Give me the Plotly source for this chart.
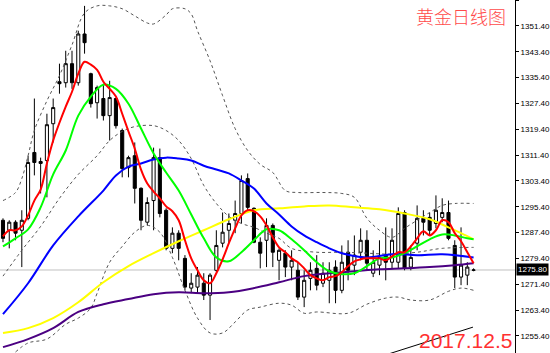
import plotly.graph_objects as go

idx = list(range(76))
open_ = [1291.2,1288.1,1290.6,1288.1,1291.8,1312.2,1309.4,1309.7,1321.1,1334.1,
         1333.8,1339.7,1333.8,1348.9,1336.6,1327.6,1328.9,1323.6,1328.9,1319.0,
         1307.5,1311.2,1301.1,1290.6,1297.3,1310.6,1294.3,1282.5,1287.2,1279.4,
         1270.2,1270.5,1271.7,1268.0,1275.7,1284.1,1288.1,1291.2,1293.3,1304.1,
         1294.9,1284.4,1285.0,1289.6,1278.8,1281.0,1276.7,1275.7,1267.4,1273.2,
         1276.3,1271.7,1272.6,1276.7,1269.5,1281.3,1277.3,1281.3,1285.0,1274.8,
         1277.3,1280.4,1278.2,1278.2,1293.6,1276.7,1284.1,1291.8,1292.1,1290.2,
         1292.1,1293.6,1283.4,1273.6,1274.2,1275.7]
high = [1291.8,1291.2,1291.2,1294.3,1311.2,1328.9,1310.6,1324.2,1328.9,1339.7,
        1343.7,1343.7,1349.9,1357.6,1336.9,1332.9,1333.5,1334.4,1329.2,1319.6,
        1311.2,1315.3,1301.4,1298.3,1313.7,1313.4,1294.9,1289.0,1288.1,1280.4,
        1274.8,1276.7,1274.8,1274.8,1288.1,1293.6,1293.3,1297.3,1305.1,1305.7,
        1295.2,1285.9,1291.8,1290.2,1282.5,1281.9,1281.9,1278.2,1275.7,1278.2,
        1280.4,1278.2,1278.2,1278.8,1283.4,1285.0,1286.5,1288.7,1288.1,1281.9,
        1285.0,1289.0,1288.7,1295.2,1294.3,1283.4,1295.8,1294.3,1293.6,1298.9,
        1298.0,1297.3,1285.0,1289.0,1278.2,1276.3]
low = [1284.4,1282.5,1285.0,1276.7,1291.2,1305.1,1299.5,1298.3,1315.3,1330.4,
       1332.3,1331.9,1332.9,1342.8,1326.1,1322.7,1322.1,1315.9,1319.6,1304.5,
       1304.5,1296.4,1288.1,1289.6,1288.1,1292.1,1281.9,1281.0,1278.8,1269.5,
       1268.6,1268.6,1266.5,1260.3,1275.1,1282.8,1284.1,1287.2,1290.2,1294.3,
       1284.1,1276.3,1276.7,1276.7,1272.6,1273.6,1272.6,1266.5,1264.3,1269.5,
       1269.5,1270.5,1265.5,1265.5,1268.6,1272.6,1274.2,1278.8,1275.7,1273.6,
       1274.2,1272.6,1276.3,1276.3,1275.7,1275.7,1281.9,1286.5,1286.5,1288.7,
       1290.6,1285.0,1270.2,1271.1,1271.1,1275.4]
close = [1285.6,1290.6,1287.2,1291.2,1309.1,1309.1,1308.8,1320.8,1326.1,1333.5,
         1339.7,1333.8,1348.9,1346.2,1327.3,1332.3,1323.6,1329.2,1320.5,1307.2,
         1310.6,1301.1,1291.2,1296.7,1310.6,1293.3,1282.5,1287.2,1282.5,1270.5,
         1271.7,1274.2,1268.0,1274.2,1283.4,1287.5,1290.2,1293.3,1303.5,1295.2,
         1284.4,1281.0,1289.6,1281.3,1281.9,1276.7,1278.8,1267.4,1272.6,1275.7,
         1271.1,1274.8,1275.7,1269.5,1278.2,1275.7,1280.4,1285.0,1277.9,1278.2,
         1279.7,1278.2,1285.0,1293.3,1276.3,1279.7,1291.8,1290.6,1288.1,1294.3,
         1293.6,1285.6,1273.6,1277.3,1276.7,1275.8]

ma_red = [1286.2,1288.1,1288.1,1289.3,1292.7,1297.3,1300.7,1308.8,1315.9,1321.4,
          1326.4,1331.0,1336.6,1340.3,1339.4,1337.8,1334.1,1331.9,1329.5,1324.2,
          1318.7,1313.4,1306.9,1302.6,1300.1,1298.0,1295.5,1294.0,1291.2,1285.0,
          1279.4,1275.7,1272.6,1271.7,1274.8,1279.1,1284.1,1288.7,1292.7,1294.3,
          1294.0,1292.4,1289.6,1285.9,1282.8,1281.3,1279.4,1278.2,1276.3,1274.2,
          1273.2,1272.6,1273.6,1273.9,1275.1,1277.0,1278.5,1279.1,1279.4,1279.4,
          1279.4,1278.8,1280.0,1281.3,1281.3,1283.1,1285.6,1287.8,1286.5,1288.1,
          1291.2,1290.6,1287.2,1284.7,1281.3,1277.9]

green_x = [0,2,4,6,8,10,12,14,16,18,20,22,24,26,28,30,32,34,36,38,40,42,44,46,48,
           50,52,54,56,58,60,62,64,66,68,70,72,74,75]
ma_green = [1283.1,1285.6,1288.4,1295.2,1305.4,1312.8,1323.6,1329.5,1333.2,1331.9,
            1327.3,1319.6,1311.9,1306.0,1300.4,1293.0,1285.6,1279.7,1278.5,1281.3,
            1285.0,1288.4,1288.1,1285.3,1281.9,1278.2,1275.4,1274.5,1274.8,1277.0,
            1279.4,1279.7,1281.0,1283.1,1285.3,1286.8,1286.5,1285.6,1285.3]

blue_x = [0,4,8,12,16,18,20,22,24,26,28,30,32,34,36,38,40,42,44,46,48,50,52,54,58,62,66,70,75]
ma_blue = [1262.1,1271.7,1283.4,1292.4,1300.4,1305.1,1307.8,1308.8,1310.0,1310.6,
           1310.3,1309.7,1308.1,1306.9,1305.7,1303.5,1301.0,1296.4,1293.0,1289.3,
           1286.5,1284.4,1282.5,1281.0,1279.7,1280.7,1280.4,1280.7,1279.7]

yellow_x = [0,4,8,12,16,20,24,28,32,36,40,44,48,52,56,60,64,68,71,73,75]
ma_yellow = [1256.3,1257.8,1260.9,1265.8,1272.0,1277.0,1281.0,1284.7,1288.1,1291.5,
             1294.3,1294.9,1295.5,1295.8,1295.2,1294.6,1293.3,1291.5,1289.0,1287.2,1285.3]

purple_x = [0,4,8,12,16,20,24,28,32,36,40,44,48,52,56,60,64,68,72,75]
ma_purple = [1251.9,1254.4,1257.8,1262.8,1265.2,1266.8,1268.3,1268.9,1268.6,1268.9,
             1270.2,1272.0,1273.9,1274.8,1275.4,1276.0,1276.3,1276.7,1277.3,1277.9]

bb_up_x = [0,2,3,4,5,7,9,11,13,15,17,19,21,23,24,26,27,29,30,31,33,35,37,39,41,43,45,
           47,51,54,56,58,60,62,64,66,68,70,72,75]
bb_up = [1297.3,1299.8,1304.1,1311.2,1319.0,1328.2,1336.0,1345.5,1355.4,1357.6,
         1357.6,1356.7,1354.5,1352.3,1352.0,1354.8,1356.7,1356.7,1355.1,1349.9,
         1340.6,1329.8,1319.6,1312.8,1308.5,1306.0,1300.4,1299.8,1299.8,1299.5,
         1298.3,1291.8,1288.1,1285.9,1288.7,1291.2,1293.6,1295.8,1296.4,1296.4]

bb_mid_x = [0,3,6,9,12,15,17,19,21,24,26,28,30,32,34,36,38,40,42,44,46,50,54,58,62,66,70,75]
bb_mid = [1273.9,1281.9,1289.3,1298.0,1305.4,1311.2,1315.9,1318.7,1320.2,1320.5,
          1319.0,1315.9,1310.3,1302.0,1296.4,1292.4,1290.2,1289.0,1287.2,1285.6,
          1282.5,1281.3,1281.3,1281.0,1280.7,1281.3,1282.5,1282.8]

bb_low_x = [2,4,7,10,12,14,15,17,19,21,23,25,27,29,31,33,35,37,39,41,44,46,48,50,55,
            58,61,63,65,68,71,73,75]
bb_low = [1250.4,1253.2,1254.4,1259.0,1260.9,1264.0,1268.6,1278.2,1283.1,1287.5,
          1289.6,1287.5,1279.7,1269.5,1260.9,1256.3,1256.3,1259.7,1263.4,1264.3,
          1265.5,1264.9,1262.4,1262.8,1262.4,1265.2,1267.1,1267.4,1266.5,1266.5,
          1269.2,1270.2,1269.5]

trend_x = [60, 74.9]
trend_y = [1248.9, 1258.1]

last_price = 1275.80
tick_vals = [1255.4 + 8 * k for k in range(14)]
tick_text = ["%.2f" % v for v in tick_vals]

fig = go.Figure()
fig.add_shape(type="line", xref="paper", x0=0, x1=1, yref="y", y0=last_price, y1=last_price,
              line=dict(color="#c0c0c0", width=1), layer="below")

fig.add_trace(go.Candlestick(
    x=idx, open=open_, high=high, low=low, close=close,
    increasing=dict(line=dict(color="black", width=1), fillcolor="white"),
    decreasing=dict(line=dict(color="black", width=1), fillcolor="black"),
    whiskerwidth=0, showlegend=False, hoverinfo="skip"))

band_style = dict(color="#555555", width=1, dash="dot")
for bx, by in [(bb_up_x, bb_up), (bb_mid_x, bb_mid), (bb_low_x, bb_low)]:
    fig.add_trace(go.Scatter(x=bx, y=by, mode="lines", line=band_style,
                             line_shape="spline", showlegend=False, hoverinfo="skip"))

for lx, ly, col in [(purple_x, ma_purple, "#4B0082"), (yellow_x, ma_yellow, "#FFFF00"),
                    (blue_x, ma_blue, "#0000FF"), (green_x, ma_green, "#00FF00"),
                    (idx, ma_red, "#FF0000")]:
    fig.add_trace(go.Scatter(x=lx, y=ly, mode="lines", line=dict(color=col, width=2),
                             line_shape="spline", showlegend=False, hoverinfo="skip"))

fig.add_trace(go.Scatter(x=trend_x, y=trend_y, mode="lines",
                         line=dict(color="black", width=1), showlegend=False, hoverinfo="skip"))

fig.add_annotation(xref="paper", yref="y", x=1, y=last_price, xanchor="left", yanchor="middle",
                   text="1275.80", showarrow=False, bgcolor="black",
                   font=dict(color="white", size=8, family="Liberation Sans"),
                   borderpad=1, xshift=1)
fig.add_annotation(xref="paper", yref="paper", x=462.5 / 517, y=1 - 16.5 / 353,
                   xanchor="center", yanchor="middle", text="黄金日线图", showarrow=False,
                   font=dict(color="#ff4a4a", size=18, family="Noto Sans CJK SC", weight=300))
fig.add_annotation(xref="paper", yref="paper", x=467 / 517, y=1 - 340 / 353,
                   xanchor="center", yanchor="middle", text="2017.12.5", showarrow=False,
                   font=dict(color="#ff3030", size=21, family="Liberation Sans"))

fig.update_layout(
    width=550, height=353, margin=dict(l=0, r=33, t=0, b=0),
    paper_bgcolor="white", plot_bgcolor="white",
    xaxis=dict(range=[-0.476, 81.6], visible=False, rangeslider=dict(visible=False),
               showgrid=False, zeroline=False),
    yaxis=dict(range=[1250.09, 1359.42], side="right", tickvals=tick_vals, ticktext=tick_text,
               ticks="outside", ticklen=3, tickcolor="black", showline=True, linecolor="black",
               linewidth=1, showgrid=False, zeroline=False,
               tickfont=dict(size=8, color="black", family="Liberation Sans")),
)

fig.write_html("out.html")
